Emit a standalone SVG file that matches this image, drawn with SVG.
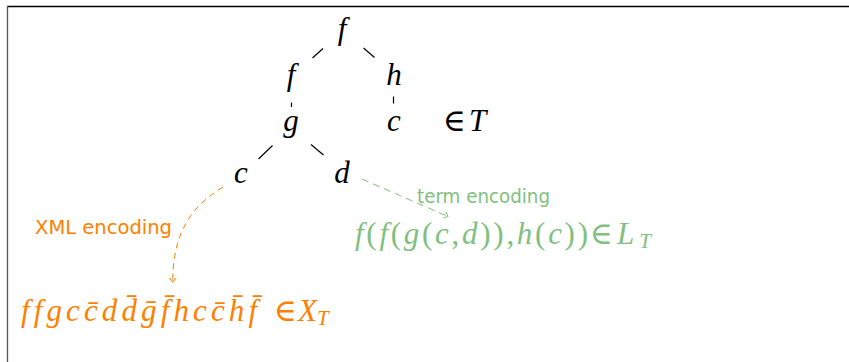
<svg xmlns="http://www.w3.org/2000/svg" width="849" height="362" viewBox="0 0 849 362">
<style>
.m{font-family:"Liberation Serif","DejaVu Serif",serif;font-style:italic;font-size:31px;fill:#000}
.u{font-family:"Liberation Serif","DejaVu Serif",serif;font-style:normal}
.sub{font-size:21px}
.s{font-family:"DejaVu Sans","Liberation Sans",sans-serif;font-size:19px}
.e{stroke:#000;stroke-width:1.2;fill:none}
.o{fill:#ff8000}
.g{fill:#80c080}
</style>
<defs>
<marker id="ao" viewBox="-5 -5 6 10" markerWidth="6" markerHeight="10" refX="0" refY="0" orient="auto" markerUnits="userSpaceOnUse"><path d="M-4,-3.5 L0,0 L-4,3.5" fill="none" stroke="#ff8000" stroke-width="1"/></marker>
<marker id="ag" viewBox="-5 -5 6 10" markerWidth="6" markerHeight="10" refX="0" refY="0" orient="auto" markerUnits="userSpaceOnUse"><path d="M-4,-3.5 L0,0 L-4,3.5" fill="none" stroke="#80c080" stroke-width="1"/></marker>
</defs>
<rect width="849" height="362" fill="#fff"/>
<g id="frame">
<line x1="7" y1="6.5" x2="849" y2="6.5" stroke="#000" stroke-width="1.3"/>
<line x1="7.5" y1="6" x2="7.5" y2="362" stroke="#555" stroke-width="1.3"/>
</g>
<g id="edges">
<line class="e" x1="323" y1="48.5" x2="312.5" y2="58"/>
<line class="e" x1="363.5" y1="48" x2="374.5" y2="57.5"/>
<line class="e" x1="291.5" y1="102.5" x2="291.5" y2="107"/>
<line class="e" x1="393.5" y1="96.5" x2="393.5" y2="103.5"/>
<line class="e" x1="272.5" y1="145.5" x2="258.5" y2="159"/>
<line class="e" x1="311" y1="144.5" x2="323.5" y2="155"/>
</g>
<g id="connectors">
<path d="M223,187 C185,210 173,240 172.7,282" fill="none" stroke="#ff8000" stroke-width="1" stroke-dasharray="6 4.5" marker-end="url(#ao)"/>
<line x1="362" y1="179" x2="448" y2="216.5" stroke="#80c080" stroke-width="1" stroke-dasharray="7 5" marker-end="url(#ag)"/>
</g>
<g id="n-f0"><text class="m" x="342" y="39" text-anchor="middle">f</text></g>
<g id="n-f1"><text class="m" x="291" y="85" text-anchor="middle">f</text></g>
<g id="n-h"><text class="m" x="394" y="85" text-anchor="middle">h</text></g>
<g id="n-g"><text class="m" x="291" y="131" text-anchor="middle">g</text></g>
<g id="n-c1"><text class="m" x="394" y="131" text-anchor="middle">c</text></g>
<g id="n-inT"><text class="m" x="443" y="131" font-size="32"><tspan class="u">∈</tspan><tspan x="469">T</tspan></text></g>
<g id="n-c2"><text class="m" x="241" y="183" text-anchor="middle">c</text></g>
<g id="n-d"><text class="m" x="342" y="183" text-anchor="middle">d</text></g>
<g id="n-xml-label"><text class="s o" x="35" y="234" textLength="137" lengthAdjust="spacingAndGlyphs">XML encoding</text></g>
<g id="n-term-label"><text class="s g" x="417" y="203" textLength="133" lengthAdjust="spacingAndGlyphs">term encoding</text></g>
<g id="n-xml">
<text class="m o" x="21" y="321" textLength="236" lengthAdjust="spacing">ffgcc̄dd̄ḡf̄hcc̄h̄f̄</text>
<text class="m o" x="274" y="321" font-size="32"><tspan class="u">∈</tspan><tspan x="298">X</tspan><tspan class="sub" dy="4">T</tspan></text>
</g>
<g id="n-term">
<text class="m g" x="355" y="244" textLength="233" lengthAdjust="spacing">f<tspan class="u">(</tspan>f<tspan class="u">(</tspan>g<tspan class="u">(</tspan>c<tspan class="u">,</tspan>d<tspan class="u">)</tspan><tspan class="u">)</tspan><tspan class="u">,</tspan>h<tspan class="u">(</tspan>c<tspan class="u">)</tspan><tspan class="u">)</tspan></text>
<text class="m g" x="590" y="244" font-size="32"><tspan class="u">∈</tspan><tspan x="617">L</tspan><tspan class="sub" dx="5" dy="4">T</tspan></text>
</g>
</svg>
